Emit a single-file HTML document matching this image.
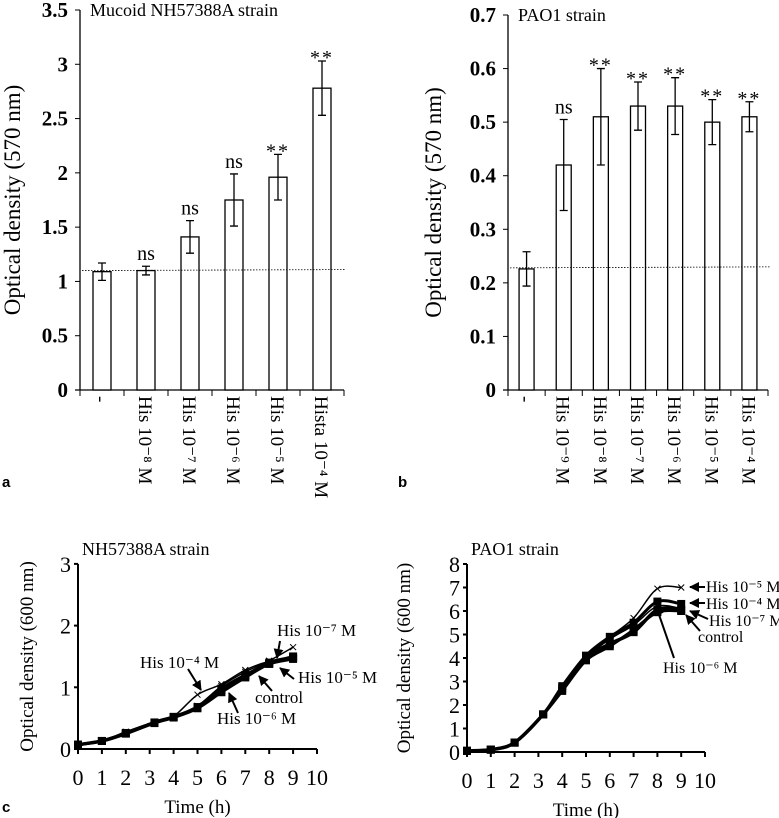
<!DOCTYPE html>
<html><head><meta charset="utf-8"><style>
body{margin:0;background:#fff}
svg{display:block}
text{font-family:"Liberation Serif",serif;fill:#000}
.b{font-weight:bold}
.s{font-family:"Liberation Sans",sans-serif;font-weight:bold}
</style></head><body>
<svg id="fig" width="779" height="818" viewBox="0 0 779 818">
<defs><marker id="ar" viewBox="0 0 10 10" refX="9" refY="5" markerWidth="5" markerHeight="5" orient="auto"><path d="M0,0L10,5L0,10z" fill="#000"/></marker></defs>
<g id="pa"></g>
<g id="pb"></g>
<g id="pc1"></g>
<g id="pc2"></g>
<text class="s" x="2" y="487" font-size="15">a</text>
<text class="s" x="398" y="487" font-size="15">b</text>
<text class="s" x="2" y="812" font-size="15">c</text>
</svg>
<script>
const aCats=["-","His 10⁻⁸ M","His 10⁻⁷ M","His 10⁻⁶ M","His 10⁻⁵ M","Hista 10⁻⁴ M"];
const aVals=[1.09,1.10,1.41,1.75,1.96,2.78];
const aErr=[0.08,0.04,0.15,0.24,0.21,0.25];
const aSig=["","ns","ns","ns","**","**"];
const aTicks=["0","0.5","1","1.5","2","2.5","3","3.5"];
const bCats=["-","His 10⁻⁹ M","His 10⁻⁸ M","His 10⁻⁷ M","His 10⁻⁶ M","His 10⁻⁵ M","His 10⁻⁴ M"];
const bVals=[0.226,0.42,0.51,0.53,0.53,0.50,0.51];
const bErr=[0.032,0.085,0.09,0.045,0.053,0.042,0.028];
const bSig=["","ns","**","**","**","**","**"];
const bTicks=["0","0.1","0.2","0.3","0.4","0.5","0.6","0.7"];
const times=[0,1,2,3.2,4,5,6,7,8,9];
const nhControl=[0.07,0.13,0.25,0.43,0.52,0.67,0.95,1.18,1.40,1.48];
const nh4=[0.07,0.13,0.28,0.44,0.53,0.88,1.05,1.28,1.42,1.48];
const nh7=[0.07,0.13,0.27,0.43,0.53,0.70,1.02,1.25,1.43,1.65];
const nh5=[0.07,0.13,0.26,0.43,0.52,0.68,0.98,1.20,1.38,1.46];
const nh6=[0.07,0.13,0.25,0.42,0.51,0.66,0.92,1.16,1.38,1.50];
const paControl=[0.05,0.1,0.4,1.6,2.7,4.0,4.6,5.1,6.05,6.05];
const pa5=[0.05,0.1,0.4,1.6,2.8,4.1,4.9,5.7,6.95,7.0];
const pa4=[0.05,0.1,0.4,1.6,2.8,4.1,4.9,5.5,6.4,6.3];
const pa7=[0.05,0.1,0.4,1.6,2.7,4.0,4.8,5.4,6.2,6.1];
const pa6=[0.05,0.1,0.4,1.6,2.6,3.9,4.5,5.2,5.95,6.0];
const NS="http://www.w3.org/2000/svg";
function mk(p,t,a,txt){const e=document.createElementNS(NS,t);for(const k in a)e.setAttribute(k,a[k]);if(txt!==undefined)e.textContent=txt;p.appendChild(e);return e;}
function bar(g,o){
 const {x0,x1,y0,y1,max,cats,vals,err,sig,ticks,bw,title,tx,ref}=o;
 const Y=v=>y0-(v/max)*(y0-y1);
 const cw=(x1-x0)/cats.length;const X=i=>x0+cw*(i+0.5);
 let e=mk(g,"line",{x1:x0,y1:y1,x2:x0,y2:y0,stroke:"#000","stroke-width":1.3});
 
 
 e=mk(g,"line",{x1:x0-5,y1:y0,x2:x1,y2:y0,stroke:"#000","stroke-width":1.3});
 
 
 ticks.forEach((t,i)=>{const v=max*i/(ticks.length-1);const y=Y(v);
  mk(g,"line",{x1:x0-5,y1:y,x2:x0,y2:y,stroke:"#000"});
  e=mk(g,"text",{x:x0-12,y:y+7,"font-size":21,"text-anchor":"end",class:"b"},t);
  
  });
 for(let i=0;i<=cats.length;i++){const x=x0+cw*i;mk(g,"line",{x1:x,y1:y0,x2:x,y2:y0+6,stroke:"#000"});}
 cats.forEach((c,i)=>{const x=X(i);
  e=mk(g,"rect",{x:x-bw/2,y:Y(vals[i]),width:bw,height:y0-Y(vals[i]),fill:"#fff",stroke:"#000","stroke-width":1.3});
  
  
  const t=Y(vals[i]+err[i]),b=Y(vals[i]-err[i]);
  e=mk(g,"path",{d:`M${x},${t}V${b}M${x-4},${t}H${x+4}M${x-4},${b}H${x+4}`,stroke:"#000","stroke-width":1.3,fill:"none"});
  
  
  if(sig[i]){const st=sig[i]!="ns";e=mk(g,"text",{x:x,y:t-(st?-3:6),"font-size":20,"text-anchor":"middle","letter-spacing":st?2:0},sig[i]);
   
   }
  e=mk(g,"text",{x:0,y:0,"font-size":19,transform:`translate(${x-7},${y0+6}) rotate(90)`},c);
  
  });
 e=mk(g,"line",{x1:x0+2,y1:Y(ref),x2:x1+2,y2:Y(ref)-1,stroke:"#000","stroke-width":0.8,"stroke-dasharray":"1.5,1.5"});
 
 
 e=mk(g,"text",{x:x0+10,y:y1+6,"font-size":18},title);
 
 
 e=mk(g,"text",{x:0,y:0,"font-size":23,"text-anchor":"middle",transform:`translate(${tx},${(y0+y1)/2}) rotate(-90)`},"Optical density (570 nm)");
 
 
}
bar(document.getElementById("pa"),{x0:80,x1:344,y0:390,y1:10,max:3.5,cats:aCats,vals:aVals,err:aErr,sig:aSig,ticks:aTicks,bw:18,title:"Mucoid NH57388A strain",tx:20,ref:1.1});
bar(document.getElementById("pb"),{x0:508,x1:768,y0:390,y1:15,max:0.7,cats:bCats,vals:bVals,err:bErr,sig:bSig,ticks:bTicks,bw:15,title:"PAO1 strain",tx:441,ref:0.228});
function smooth(pts){let d=`M${pts[0][0]},${pts[0][1]}`;for(let i=0;i<pts.length-1;i++){const p0=pts[i-1]||pts[i],p1=pts[i],p2=pts[i+1],p3=pts[i+2]||p2;
 d+=`C${p1[0]+(p2[0]-p0[0])/6},${p1[1]+(p2[1]-p0[1])/6} ${p2[0]-(p3[0]-p1[0])/6},${p2[1]-(p3[1]-p1[1])/6} ${p2[0]},${p2[1]}`;}return d;}
function line(g,o){
 const {x0,y0,xs,ys,ymax,series,title,tx,notes,nfs}=o;
 const X=v=>x0+v*xs,Y=v=>y0-v*ys;
 let e=mk(g,"line",{x1:x0,y1:Y(ymax),x2:x0,y2:y0+4,stroke:"#000","stroke-width":2});
 
 
 e=mk(g,"line",{x1:x0,y1:y0,x2:X(10),y2:y0,stroke:"#000","stroke-width":2});
 
 
 for(let v=0;v<=ymax;v++){mk(g,"line",{x1:x0-4,y1:Y(v),x2:x0,y2:Y(v),stroke:"#000","stroke-width":2});
  e=mk(g,"text",{x:x0-7,y:Y(v)+8,"font-size":22,"text-anchor":"end"},String(v));
  
  }
 for(let v=0;v<=10;v++){mk(g,"line",{x1:X(v),y1:y0,x2:X(v),y2:y0+5,stroke:"#000","stroke-width":2});
  e=mk(g,"text",{x:X(v),y:y0+36,"font-size":22,"text-anchor":"middle"},String(v));
  
  }
 series.forEach(s=>{const pts=times.map((t,i)=>[X(t),Y(s.v[i])]);
  e=mk(g,"path",{d:smooth(pts),fill:"none",stroke:"#000","stroke-width":s.w});
  
  
  pts.forEach(p=>{if(s.m=="sq"){e=mk(g,"rect",{x:p[0]-4,y:p[1]-4,width:8,height:8,fill:"#000"});}
   else{e=mk(g,"path",{d:`M${p[0]-3},${p[1]-3}L${p[0]+3},${p[1]+3}M${p[0]-3},${p[1]+3}L${p[0]+3},${p[1]-3}`,stroke:"#000","stroke-width":1});}
   
   });});
 e=mk(g,"text",{x:x0+4,y:Y(ymax)-9,"font-size":18},title);
 
 
 e=mk(g,"text",{x:X(5),y:y0+64,"font-size":19,"text-anchor":"middle"},"Time (h)");
 
 
 e=mk(g,"text",{x:0,y:0,"font-size":19,"text-anchor":"middle",transform:`translate(${tx},${(y0+Y(ymax))/2}) rotate(-90)`},"Optical density (600 nm)");
 
 
 notes.forEach(n=>{e=mk(g,"text",{x:n[0],y:n[1],"font-size":nfs},n[2]);
  
  
  e=mk(g,"line",{x1:n[3],y1:n[4],x2:n[5],y2:n[6],stroke:"#000","stroke-width":2,"marker-end":"url(#ar)"});
  
  });
}
line(document.getElementById("pc1"),{x0:78,y0:749,xs:23.9,ys:61.7,ymax:3,tx:33,nfs:17,title:"NH57388A strain",
 series:[{v:nh4,w:1.5,m:"x"},{v:nh7,w:1.5,m:"x"},{v:nh5,w:3,m:"sq"},{v:nh6,w:3,m:"sq"},{v:nhControl,w:3.5,m:"sq"}],
 notes:[[140,668,"His 10⁻⁴ M",188,669,201,690],[277,636,"His 10⁻⁷ M",280,641,277,658],[298,683,"His 10⁻⁵ M",294,679,280,668],[255,703,"control",272,691,259,676],[217,724,"His 10⁻⁶ M",238,713,229,693]]});
line(document.getElementById("pc2"),{x0:467,y0:752,xs:23.8,ys:23.5,ymax:8,tx:410,nfs:16,title:"PAO1 strain",
 series:[{v:pa5,w:1.5,m:"x"},{v:pa7,w:1.5,m:"x"},{v:pa4,w:3,m:"sq"},{v:pa6,w:3,m:"sq"},{v:paControl,w:3.5,m:"sq"}],
 notes:[[706,592,"His 10⁻⁵ M",705,587,690,587],[706,609,"His 10⁻⁴ M",705,603,690,603],[709,626,"His 10⁻⁷ M",708,619,690,611],[698,642,"control",700,631,686,615],[663,673,"His 10⁻⁶ M",674,658,656,606]]});
</script>
</body></html>
